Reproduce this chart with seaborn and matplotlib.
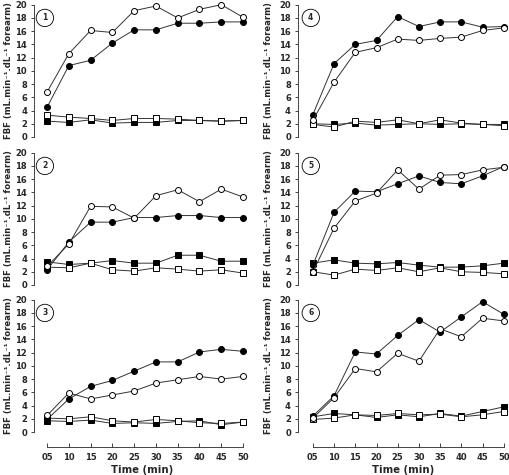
import numpy as np
import pandas as pd
import seaborn as sns
import matplotlib.pyplot as plt

sns.set_style("ticks")
plt.rcParams['font.family'] = ['DejaVu Sans']

# tempos (min)
tempo = [5, 10, 15, 20, 25, 30, 35, 40, 45, 50]
rotulos_tempo = ["05", "10", "15", "20", "25", "30", "35", "40", "45", "50"]

# painel 1
p1_circ_aberto = [6.8, 12.6, 16.1, 15.8, 19.1, 19.8, 18.0, 19.3, 20.0, 18.1]
p1_circ_cheio = [4.5, 10.8, 11.6, 14.2, 16.2, 16.2, 17.2, 17.2, 17.4, 17.4]
p1_quad_aberto = [3.3, 3.0, 2.8, 2.5, 2.8, 2.8, 2.7, 2.5, 2.4, 2.5]
p1_quad_cheio = [2.4, 2.2, 2.6, 2.1, 2.2, 2.2, 2.5, 2.5, 2.4, 2.5]

# painel 2
p2_circ_aberto = [2.8, 6.2, 11.9, 11.8, 10.1, 13.5, 14.4, 12.6, 14.5, 13.3]
p2_circ_cheio = [2.3, 6.5, 9.5, 9.5, 10.2, 10.2, 10.5, 10.5, 10.2, 10.2]
p2_quad_aberto = [2.7, 2.6, 3.3, 2.3, 2.1, 2.6, 2.4, 2.1, 2.3, 1.8]
p2_quad_cheio = [3.5, 3.1, 3.3, 3.7, 3.3, 3.3, 4.5, 4.5, 3.6, 3.6]

# painel 3
p3_circ_aberto = [2.5, 5.9, 5.0, 5.6, 6.2, 7.4, 7.9, 8.4, 8.0, 8.4]
p3_circ_cheio = [1.9, 5.0, 6.9, 7.8, 9.2, 10.6, 10.6, 12.1, 12.5, 12.2]
p3_quad_aberto = [2.1, 2.0, 2.3, 1.7, 1.5, 1.9, 1.7, 1.4, 1.3, 1.5]
p3_quad_cheio = [1.7, 1.6, 1.8, 1.3, 1.4, 1.3, 1.6, 1.7, 1.1, 1.5]

# painel 4
p4_circ_aberto = [2.5, 8.3, 12.8, 13.5, 14.8, 14.6, 14.9, 15.1, 16.1, 16.5]
p4_circ_cheio = [3.4, 11.1, 14.0, 14.6, 18.2, 16.7, 17.4, 17.4, 16.6, 16.7]
p4_quad_aberto = [1.9, 1.5, 2.4, 2.2, 2.6, 2.0, 2.6, 2.1, 1.9, 1.7]
p4_quad_cheio = [2.0, 1.9, 2.1, 1.8, 1.9, 2.0, 1.9, 2.0, 1.9, 1.9]

# painel 5
p5_circ_aberto = [2.0, 8.6, 12.7, 13.9, 17.4, 14.5, 16.6, 16.7, 17.4, 17.8]
p5_circ_cheio = [3.0, 11.0, 14.2, 14.1, 15.3, 16.5, 15.5, 15.3, 16.5, 17.9]
p5_quad_aberto = [2.0, 1.5, 2.4, 2.2, 2.6, 2.0, 2.6, 2.0, 1.9, 1.7]
p5_quad_cheio = [3.3, 3.8, 3.3, 3.2, 3.4, 3.0, 2.7, 2.7, 2.9, 3.3]

# painel 6
p6_circ_aberto = [2.1, 5.2, 9.6, 9.1, 11.9, 10.7, 15.6, 14.4, 17.2, 16.8]
p6_circ_cheio = [2.4, 5.5, 12.1, 11.8, 14.6, 17.0, 15.1, 17.4, 19.7, 17.8]
p6_quad_aberto = [1.9, 2.1, 2.6, 2.5, 2.8, 2.6, 2.7, 2.3, 2.6, 3.1]
p6_quad_cheio = [2.3, 2.8, 2.6, 2.2, 2.6, 2.3, 2.8, 2.4, 3.1, 3.8]

paineis = {
    1: [p1_quad_cheio, p1_quad_aberto, p1_circ_cheio, p1_circ_aberto],
    2: [p2_quad_cheio, p2_quad_aberto, p2_circ_cheio, p2_circ_aberto],
    3: [p3_quad_cheio, p3_quad_aberto, p3_circ_cheio, p3_circ_aberto],
    4: [p4_quad_cheio, p4_quad_aberto, p4_circ_cheio, p4_circ_aberto],
    5: [p5_quad_cheio, p5_quad_aberto, p5_circ_cheio, p5_circ_aberto],
    6: [p6_quad_cheio, p6_quad_aberto, p6_circ_cheio, p6_circ_aberto],
}
estilos = [('s', 'black'), ('s', 'white'), ('o', 'black'), ('o', 'white')]

fig = plt.figure(figsize=(5.1, 4.75), dpi=100)

# posições dos eixos (fração da figura)
lin_y = [0.7116, 0.40, 0.0905]
alt = 0.2785
col_x = [(0.0667, 0.4235, (2.0, 51.6)), (0.584, 0.412, (1.45, 51.0))]

ylabel = "FBF (mL.min\u207b\u00b9.dL\u207b\u00b9 forearm)"

for num, series in paineis.items():
    col = 0 if num <= 3 else 1
    lin = (num - 1) % 3
    left, width, xlim = col_x[col]
    ax = fig.add_axes([left, lin_y[lin], width, alt])

    for (marc, face), valores in zip(estilos, series):
        df = pd.DataFrame({'tempo': tempo, 'fbf': valores})
        sns.lineplot(data=df, x='tempo', y='fbf', ax=ax, color='#333333',
                     linewidth=0.7, marker=marc, markersize=4.3,
                     markerfacecolor=face, markeredgecolor='black',
                     markeredgewidth=0.7, clip_on=False)

    ax.set_xlim(*xlim)
    ax.set_ylim(0, 20)
    ax.set_yticks(range(0, 21, 2))
    ax.tick_params(axis='y', labelsize=6, length=2.5, width=0.6, pad=2.5)
    for t in ax.get_yticklabels():
        t.set_fontweight('bold')
    ax.spines['top'].set_visible(False)
    ax.spines['right'].set_visible(False)
    ax.spines['left'].set_bounds(0, 20)
    ax.spines['left'].set_linewidth(0.6)
    ax.set_ylabel(ylabel, fontsize=6.1, fontweight='bold')
    ax.yaxis.set_label_coords(-0.095 if col == 0 else -0.117, 0.5)

    if lin == 2:
        ax.spines['bottom'].set_position(('outward', 11))
        ax.spines['bottom'].set_bounds(5, 50)
        ax.spines['bottom'].set_linewidth(0.6)
        ax.set_xticks(tempo)
        ax.set_xticklabels(rotulos_tempo, fontsize=6, fontweight='bold')
        ax.tick_params(axis='x', direction='in', length=3, width=0.6, pad=4)
        ax.set_xlabel("Time (min)", fontsize=7.3, fontweight='bold', labelpad=2)
    else:
        ax.spines['bottom'].set_visible(False)
        ax.set_xticks([])
        ax.set_xlabel("")

    ax.text(4.5, 18, str(num), fontsize=5.5, fontweight='bold', ha='center',
            va='center',
            bbox=dict(boxstyle='circle,pad=0.55', fc='white', ec='black',
                      lw=0.6))
    ax.patch.set_visible(False)

fig.savefig("out.png", dpi=100)
